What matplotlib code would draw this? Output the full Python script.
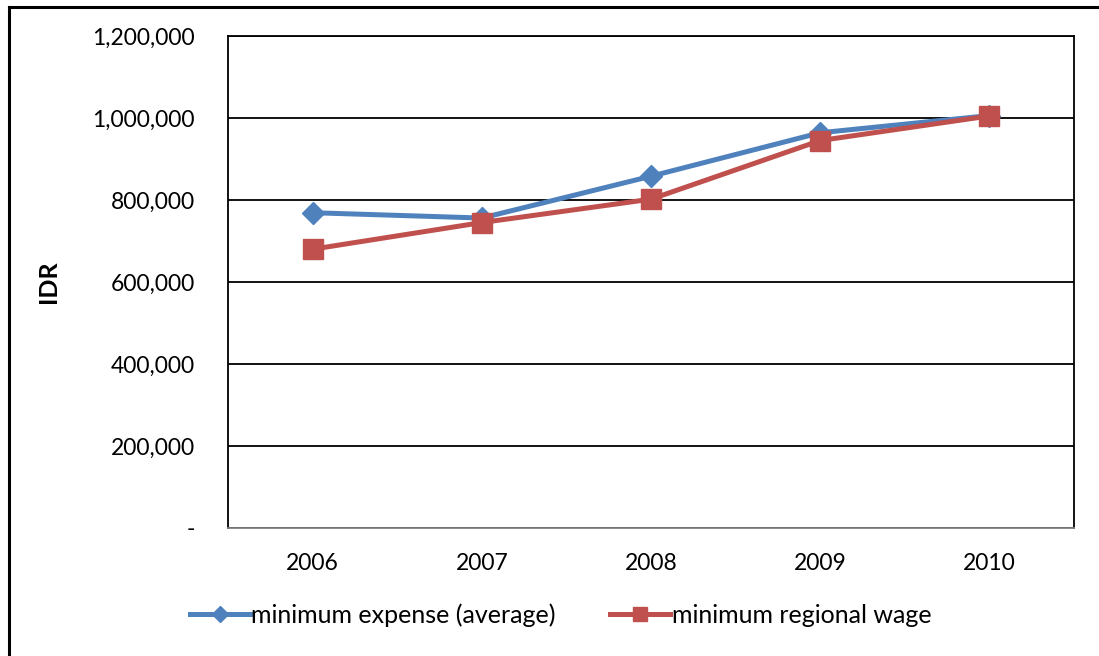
import matplotlib
matplotlib.use("Agg")
import matplotlib.pyplot as plt
from matplotlib.lines import Line2D
from matplotlib.ticker import FuncFormatter

years = ["2006", "2007", "2008", "2009", "2010"]
min_expense = [769000, 756000, 858000, 964000, 1006000]
min_wage = [680000, 745000, 802000, 945000, 1005000]

BLUE = "#4F81BD"
RED = "#C0504D"

plt.rcParams.update({
    "font.family": ["Lato", "DejaVu Sans"],
    "font.size": 16.5,
})

fig = plt.figure(figsize=(10.99, 6.56), dpi=100)
ax = fig.add_axes([228 / 1099, 128 / 656, 846 / 1099, 492 / 656])

x = range(len(years))
ax.plot(x, min_expense, color=BLUE, linewidth=3.6, marker="D", markersize=11,
        label="minimum expense (average)", zorder=3)
ax.plot(x, min_wage, color=RED, linewidth=3.6, marker="s", markersize=14,
        label="minimum regional wage", zorder=4)

ax.set_xlim(-0.5, len(years) - 0.5)
ax.set_ylim(0, 1200000)
ax.set_yticks(range(0, 1200001, 200000))
ax.yaxis.set_major_formatter(FuncFormatter(lambda v, p: "-" if v == 0 else f"{v:,.0f}"))
ax.set_xticks(list(x))
ax.set_xticklabels(years)
ax.tick_params(length=0, pad=24)
ax.tick_params(axis="x", pad=18)
ax.grid(axis="y", color="black", linewidth=1.3)
ax.set_axisbelow(True)
for s in ("left", "right", "top"):
    ax.spines[s].set_color("black")
    ax.spines[s].set_linewidth(1.3)
ax.spines["bottom"].set_color("#808080")
ax.spines["bottom"].set_linewidth(1.3)
ax.set_ylabel("IDR", fontweight="bold", fontsize=18, labelpad=23)

fig.legend(loc="center", bbox_to_anchor=(0.51, 0.0625), ncol=2, frameon=False,
           fontsize=18, markerscale=0.75, handlelength=2.4, handletextpad=0.05,
           columnspacing=2.2)

# outer frame, top and left edges
fig.add_artist(Line2D([8.5 / 1099, 8.5 / 1099], [0, 1 - 7 / 656], color="black",
                      linewidth=2.2, transform=fig.transFigure))
fig.add_artist(Line2D([8.5 / 1099, 1], [1 - 7 / 656, 1 - 7 / 656], color="black",
                      linewidth=2.2, transform=fig.transFigure))

fig.savefig("out.png", dpi=100)
